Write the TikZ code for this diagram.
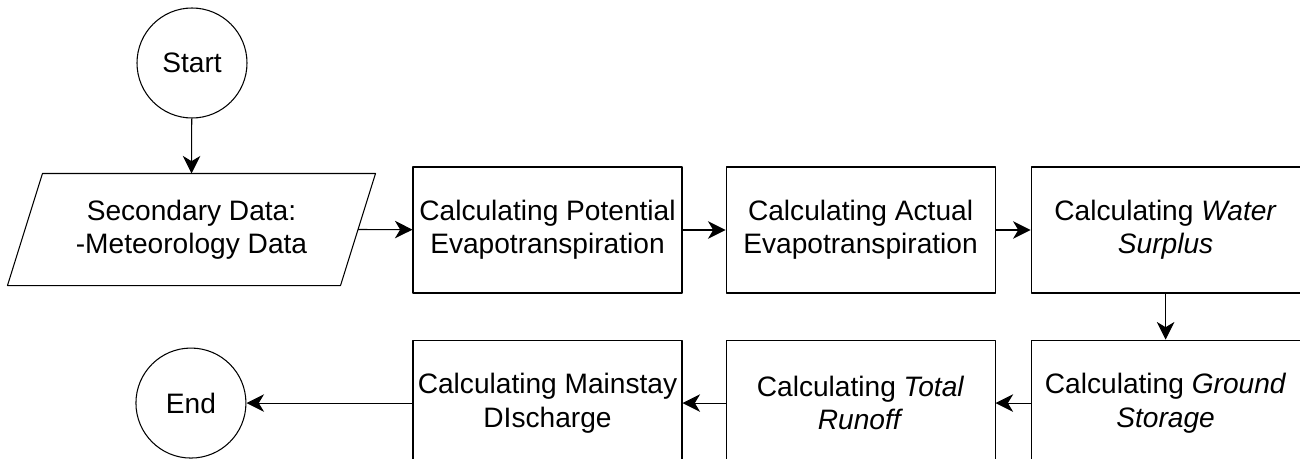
\documentclass[tikz,border=0pt]{standalone}
\usepackage{fontspec}
\setmainfont{Liberation Sans}
\usetikzlibrary{positioning,arrows.meta}
\tikzset{
	procbox/.style={draw, rectangle, minimum width=5.38cm, minimum height=2.52cm, align=center, inner sep=1pt},
	termin/.style={draw, circle, minimum size=2.2cm, inner sep=0pt},
	datain/.style={rectangle, minimum width=6.64cm, minimum height=2.22cm, align=center},
}
\begin{document}
\begin{tikzpicture}[>={Stealth[length=10pt,width=10pt,inset=3pt]}, line width=0.6pt, font=\fontsize{16}{19}\selectfont, line join=round]
	\useasboundingbox (0,0) rectangle (26,-9.18);
	% top row
	\node[termin] (start) at (3.84,-1.26) {Start};
	\node[datain] (data) at (3.83,-4.59) {Secondary Data:\\-Meteorology Data};
	\draw ([xshift=0.35cm]data.north west) -- ([xshift=0.35cm]data.north east)
		-- ([xshift=-0.35cm]data.south east) -- ([xshift=-0.35cm]data.south west) -- cycle;
	\node[procbox] (potevap) at (10.95,-4.6) {Calculating Potential\\Evapotranspiration};
	\node[procbox, right=0.86cm of potevap] (actevap) {Calculating Actual\\Evapotranspiration};
	\node[procbox, right=0.7cm of actevap] (surplus) {Calculating \textit{Water}\\\textit{Surplus}};
	% bottom row
	\node[procbox, below=0.92cm of surplus] (storage) {Calculating \textit{Ground}\\\textit{Storage}};
	\node[procbox, left=0.7cm of storage] (runoff) {Calculating \textit{Total}\\\textit{Runoff}};
	\node[procbox, left=0.86cm of runoff] (mainstay) {Calculating Mainstay\\DIscharge};
	\node[termin, left=3.32cm of mainstay] (finish) {End};
	% connectors
	\draw[->] (start) -- (data.north);
	\draw[->] (data.east) -- (potevap);
	\draw[->] (potevap) -- (actevap);
	\draw[->] (actevap) -- (surplus);
	\draw[->] (surplus) -- (storage);
	\draw[->] (storage) -- (runoff);
	\draw[->] (runoff) -- (mainstay);
	\draw[->] (mainstay) -- (finish);
\end{tikzpicture}
\end{document}
